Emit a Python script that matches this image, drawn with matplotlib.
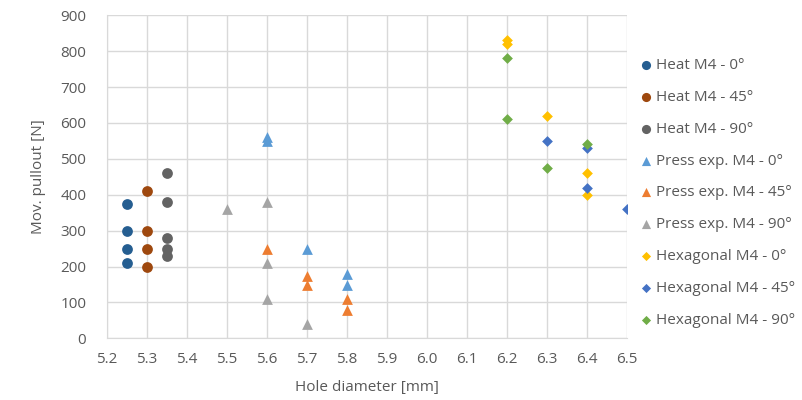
import matplotlib
matplotlib.use("Agg")
import matplotlib.pyplot as plt

plt.rcParams['font.family'] = ['Open Sans', 'DejaVu Sans']

heat0_x = [5.25, 5.25, 5.25, 5.25]
heat0_y = [375, 300, 250, 210]
heat45_x = [5.3, 5.3, 5.3, 5.3]
heat45_y = [410, 300, 250, 200]
heat90_x = [5.35, 5.35, 5.35, 5.35, 5.35]
heat90_y = [460, 380, 280, 250, 230]

press0_x = [5.6, 5.6, 5.7, 5.8, 5.8]
press0_y = [560, 550, 250, 180, 150]
press45_x = [5.6, 5.7, 5.7, 5.8, 5.8]
press45_y = [250, 175, 150, 110, 80]
press90_x = [5.5, 5.6, 5.6, 5.6, 5.7]
press90_y = [360, 380, 210, 110, 40]

hex0_x = [6.2, 6.2, 6.3, 6.4, 6.4]
hex0_y = [830, 820, 620, 460, 400]
hex45_x = [6.3, 6.4, 6.4, 6.5]
hex45_y = [550, 530, 420, 360]
hex90_x = [6.2, 6.2, 6.3, 6.4]
hex90_y = [780, 610, 475, 540]

series = [
    (heat0_x, heat0_y, 'Heat M4 - 0°', '#255E91', 'o'),
    (heat45_x, heat45_y, 'Heat M4 - 45°', '#9E480E', 'o'),
    (heat90_x, heat90_y, 'Heat M4 - 90°', '#636363', 'o'),
    (press0_x, press0_y, 'Press exp. M4 - 0°', '#5B9BD5', '^'),
    (press45_x, press45_y, 'Press exp. M4 - 45°', '#ED7D31', '^'),
    (press90_x, press90_y, 'Press exp. M4 - 90°', '#A5A5A5', '^'),
    (hex0_x, hex0_y, 'Hexagonal M4 - 0°', '#FFC000', 'D'),
    (hex45_x, hex45_y, 'Hexagonal M4 - 45°', '#4472C4', 'D'),
    (hex90_x, hex90_y, 'Hexagonal M4 - 90°', '#70AD47', 'D'),
]

fig = plt.figure(figsize=(8.03, 4.0), dpi=100)
ax = fig.add_axes([0.1333, 0.154, 0.6475, 0.808])

for x, y, lab, col, m in series:
    size = 30 if m == 'D' else 60
    ax.scatter(x, y, s=size, c=col, marker=m, label=lab, zorder=3, linewidths=0)

ax.set_xlim(5.2, 6.5)
ax.set_ylim(0, 900)
ax.set_xticks([5.2 + 0.1 * i for i in range(14)])
ax.set_xticklabels(['%.1f' % (5.2 + 0.1 * i) for i in range(14)])
ax.set_yticks(range(0, 1000, 100))
ax.grid(True, color='#D9D9D9', linewidth=1, zorder=0)
for s in ['top', 'right']:
    ax.spines[s].set_visible(False)
for s in ['left', 'bottom']:
    ax.spines[s].set_color('#D9D9D9')
ax.tick_params(length=0, labelsize=11, colors='#595959')
ax.tick_params(axis='y', pad=15)
ax.tick_params(axis='x', pad=10)

ax.set_xlabel('Hole diameter [mm]', fontsize=11, color='#595959', labelpad=9)
ax.set_ylabel('Mov. pullout [N]', fontsize=11, color='#595959', labelpad=10)

leg = ax.legend(loc='center left', bbox_to_anchor=(0.992, 0.45), frameon=False,
                fontsize=11, labelspacing=1.1, handletextpad=0.1,
                handlelength=1.2, markerscale=0.85)
for t in leg.get_texts():
    t.set_color('#595959')

fig.savefig('out.png', dpi=100)
